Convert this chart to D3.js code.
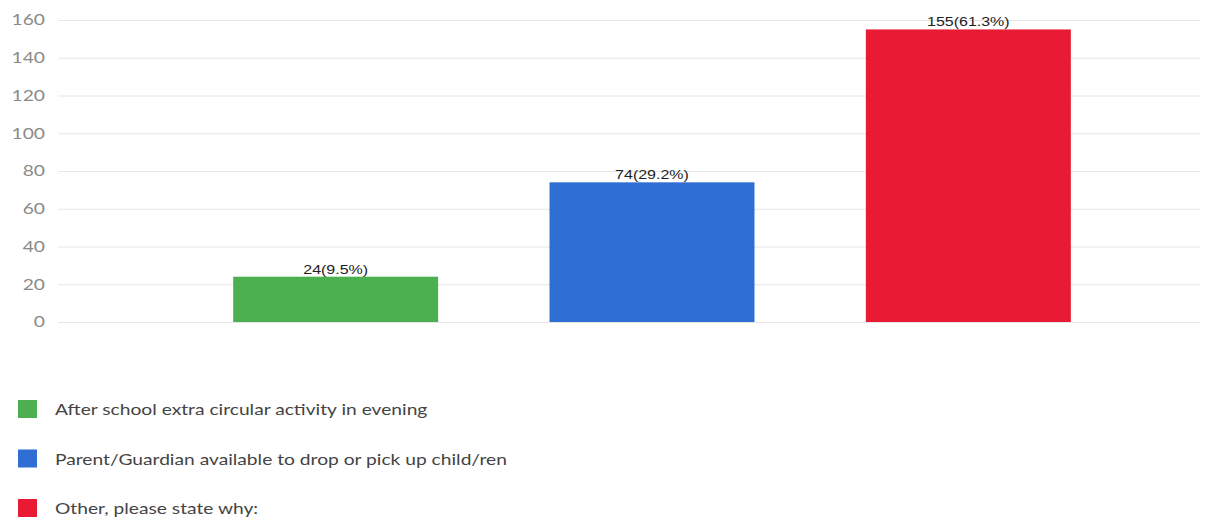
<html>
    <style>
        body {
            margin: 0;
            background: #fff;
        }

        svg {
            display: block;
        }

        .y .tick line {
            stroke: #e6e6e6;
        }

        .y .domain {
            display: none;
        }

        .y .tick text {
            font-family: Lato, 'Open Sans', sans-serif;
            font-size: 15px;
            fill: #8a8a8a;
        }

        .value-label {
            font-family: 'Liberation Sans', Arial, sans-serif;
            font-size: 12.5px;
            fill: #222;
        }

        .legend-label {
            font-family: Lato, 'Open Sans', sans-serif;
            font-size: 15px;
            fill: #444;
        }
    </style>

    <body>
        <svg width="1207" height="522"></svg>

        <script src="https://d3js.org/d3.v7.min.js"></script>

        <script>
            let categories = [
                "After school extra circular activity in evening",
                "Parent/Guardian available to drop or pick up child/ren",
                "Other, please state why:"
            ]
            let counts = [24, 74, 155]
            let percents = ["9.5%", "29.2%", "61.3%"]
            let yTicks = [0, 20, 40, 60, 80, 100, 120, 140, 160]
            let colors = ["#4caf50", "#2f6fd3", "#e91a34"]

            let width = 1207
            let height = 522
            let margin = {top: 20, right: 7, bottom: 200, left: 58}

            // the original screenshot text is a bit wide
            let stretch = 1.28

            let svg = d3.select("svg")

            let data = categories.map((c, i) => ({name: c, count: counts[i], pct: percents[i], color: colors[i]}))

            let x = d3.scaleBand()
                .domain(categories)
                .range([75, 1229])
                .paddingInner(0.352)
                .paddingOuter(0.5)

            let y = d3.scaleLinear()
                .domain([0, 160])
                .range([322, margin.top])

            // gridlines + tick labels
            svg.append("g")
                .attr("class", "y axis")
                .attr("transform", `translate(${margin.left}, 0)`)
                .call(d3.axisLeft(y)
                    .tickValues(yTicks)
                    .tickSize(-(width - margin.right - margin.left)))
                .call(g => g.selectAll(".domain").remove())
                .call(g => g.selectAll(".tick text")
                    .attr("x", 0)
                    .attr("transform", `translate(-13, 0) scale(${stretch}, 1)`))

            svg.append("g")
                .selectAll("rect")
                .data(data)
                .join("rect")
                .attr("x", d => x(d.name))
                .attr("y", d => y(d.count))
                .attr("width", x.bandwidth())
                .attr("height", d => y(0) - y(d.count))
                .attr("fill", d => d.color)

            svg.append("g")
                .selectAll("text")
                .data(data)
                .join("text")
                .attr("class", "value-label")
                .attr("text-anchor", "middle")
                .attr("transform", d => `translate(${x(d.name) + x.bandwidth() / 2}, ${y(d.count) - 3}) scale(${stretch}, 1)`)
                .text(d => `${d.count}(${d.pct})`)

            // legend
            let legend = svg.append("g")
                .selectAll("g")
                .data(data)
                .join("g")
                .attr("transform", (d, i) => `translate(18, ${400 + i * 49.5})`)

            legend.append("rect")
                .attr("width", 19)
                .attr("height", 18)
                .attr("fill", d => d.color)

            legend.append("text")
                .attr("class", "legend-label")
                .attr("transform", `translate(37, 10) scale(${stretch}, 1)`)
                .attr("dy", "0.35em")
                .text(d => d.name)
        </script>
    </body>
</html>
